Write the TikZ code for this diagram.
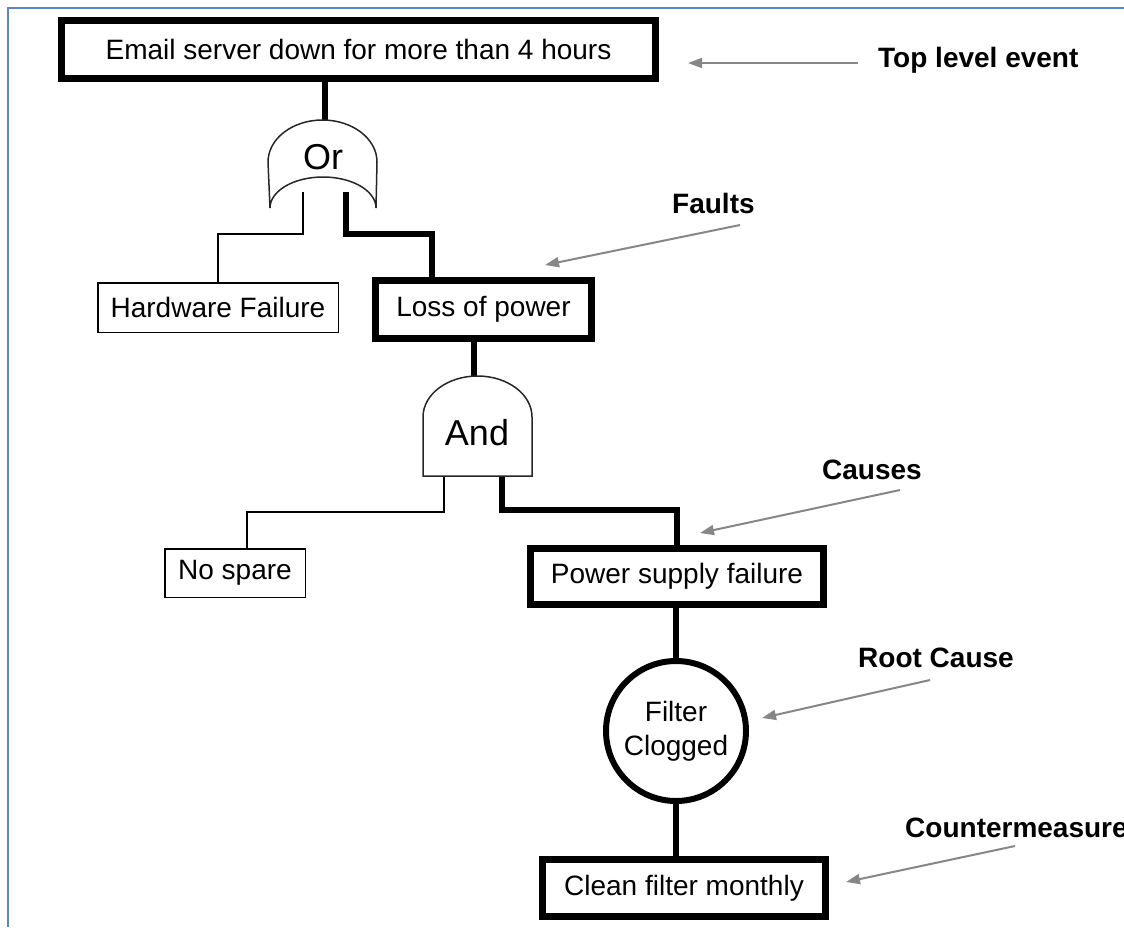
\documentclass[tikz,border=0pt]{standalone}
\usepackage{fontspec}
\setmainfont{Liberation Sans}
\usetikzlibrary{arrows.meta,calc}
\definecolor{frameblue}{RGB}{91,135,201}
\definecolor{pointergray}{RGB}{135,135,135}
\begin{document}
\begin{tikzpicture}[x=1pt,y=-1pt,
  boxtext/.style={font=\fontsize{28}{34}\selectfont, inner sep=0pt, align=center},
  thickbox/.style={boxtext, draw, line width=7pt, fill=white},
  thinbox/.style={boxtext, draw, line width=1.5pt, fill=white},
  gate/.style={draw=black!85, line width=1.5pt, fill=white},
  gatetext/.style={font=\fontsize{36}{40}\selectfont, inner sep=0pt},
  thickline/.style={line width=6.5pt},
  thinline/.style={line width=1.5pt},
  annot/.style={font=\bfseries\fontsize{28}{34}\selectfont, inner sep=0pt, anchor=west},
  pointer/.style={draw=pointergray, line width=2pt, -{Triangle[length=14pt,width=10pt]}},
  blueframe/.style={draw=frameblue, line width=1.5pt},
]
\clip (0,0) rectangle (1124,927);
\fill[white] (0,0) rectangle (1124,927);
\draw[blueframe] (8,927) -- (8,8) -- (1124,8);

% boxes
\node[thickbox, minimum width=594pt, minimum height=58pt] (top) at (358.5,49.5) {Email server down for more than 4 hours};
\node[thinbox, minimum width=240.5pt, minimum height=49.5pt] (hw) at (218,307.5) {Hardware Failure};
\node[thickbox, minimum width=216pt, minimum height=58pt] (lop) at (483.5,309.5) {Loss of power};
\node[thinbox, minimum width=140.5pt, minimum height=48.5pt] (ns) at (235,573) {No spare};
\node[thickbox, minimum width=293pt, minimum height=56pt] (psf) at (677,576.5) {Power supply failure};
\node[circle, draw, line width=6pt, minimum size=140pt, boxtext] (fc) at (676,731) {Filter\\Clogged};
\node[thickbox, minimum width=283pt, minimum height=57pt] (cfm) at (684,888) {Clean filter monthly};

% gate coordinates
\coordinate (orTop) at (325,120);
\coordinate (orL) at (303,192);
\coordinate (orR) at (346,192);
\coordinate (andTop) at (474,376);
\coordinate (andL) at (444,476);
\coordinate (andR) at (502,476);

% connectors
\draw[thickline] (top.south -| orTop) -- (orTop);
\draw[thinline] (orL) -- ++(0,42) -| (hw.north);
\draw[thickline] (orR) -- ++(0,42) -| ([xshift=-51.5pt]lop.north);
\draw[thickline] ([xshift=-9.5pt]lop.south) -- (andTop);
\draw[thinline] (andL) -- ++(0,36) -| ([xshift=12pt]ns.north);
\draw[thickline] (andR) -- ++(0,34) -| (psf.north);
\draw[thickline] (fc.north |- psf.south) -- (fc.north);
\draw[thickline] (fc.south) -- (fc.south |- cfm.north);

% Or gate
\draw[gate] (270,208) -- (268,162) arc[start angle=180,end angle=360,x radius=54.5,y radius=42]
  -- (376,208) arc[start angle=0,end angle=-180,x radius=53,y radius=31] -- cycle;
\node[gatetext] (or) at (323,157) {Or};

% And gate
\draw[gate] (423,476) -- (423,417) arc[start angle=180,end angle=360,x radius=54.5,y radius=41]
  -- (532,476) -- cycle;
\node[gatetext] (and) at (477,433) {And};

% annotations
\node[annot] (lTop) at (878,60) {Top level event};
\node[annot] (lFaults) at (672,203) {Faults};
\node[annot] (lCauses) at (822,470) {Causes};
\node[annot] (lRoot) at (858,658) {Root Cause};
\node[annot] (lCounter) at (905,828) {Countermeasure};

\coordinate (pTopS) at (858,63);  \coordinate (pTopE) at (688,63);
\coordinate (pFaS) at (740,225);  \coordinate (pFaE) at (545,265);
\coordinate (pCaS) at (900,490);  \coordinate (pCaE) at (700,533);
\coordinate (pRoS) at (930,680);  \coordinate (pRoE) at (762,718);
\coordinate (pCoS) at (1015,846); \coordinate (pCoE) at (846,882);

\draw[pointer] (pTopS) -- (pTopE);
\draw[pointer] (pFaS) -- (pFaE);
\draw[pointer] (pCaS) -- (pCaE);
\draw[pointer] (pRoS) -- (pRoE);
\draw[pointer] (pCoS) -- (pCoE);
\end{tikzpicture}
\end{document}
